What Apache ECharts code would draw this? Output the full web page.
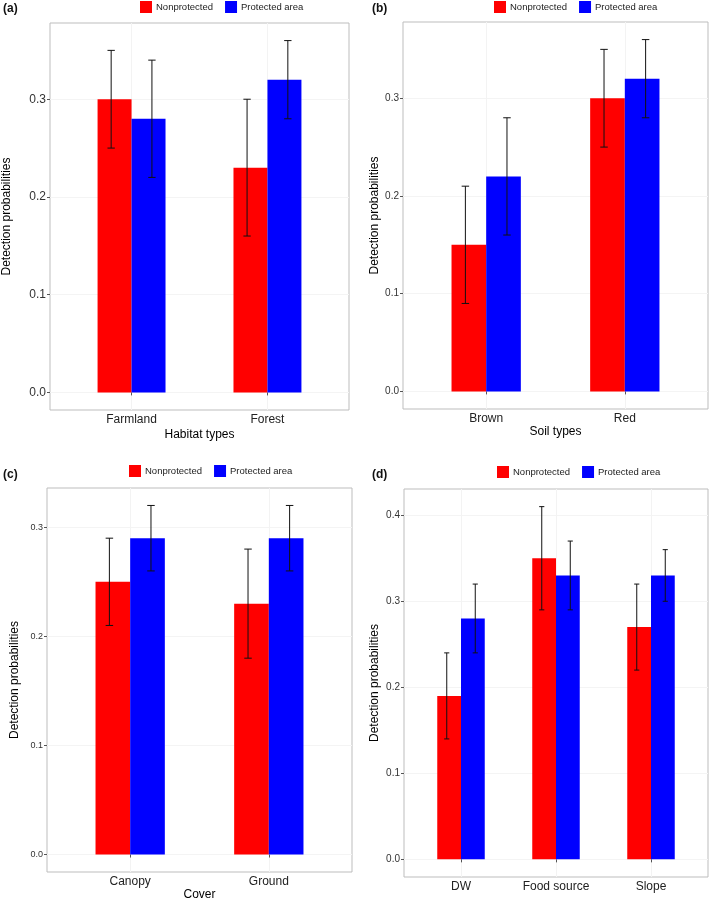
<!DOCTYPE html>
<html>
<head>
<meta charset="utf-8">
<script src="https://cdn.jsdelivr.net/npm/echarts@6/dist/echarts.min.js"></script>
<style>html,body{margin:0;padding:0;background:#fff;}#c{width:709px;height:902px;}</style>
</head>
<body>
<div id="c"></div>
<script>
// ---- data ----
const seriesNames = ['Nonprotected', 'Protected area'];

const catsA = ['Farmland', 'Forest'];
const npA = [0.30, 0.23], npLoA = [0.25, 0.16], npHiA = [0.35, 0.30];
const paA = [0.28, 0.32], paLoA = [0.22, 0.28], paHiA = [0.34, 0.36];

const catsB = ['Brown', 'Red'];
const npB = [0.15, 0.30], npLoB = [0.09, 0.25], npHiB = [0.21, 0.35];
const paB = [0.22, 0.32], paLoB = [0.16, 0.28], paHiB = [0.28, 0.36];

const catsC = ['Canopy', 'Ground'];
const npC = [0.25, 0.23], npLoC = [0.21, 0.18], npHiC = [0.29, 0.28];
const paC = [0.29, 0.29], paLoC = [0.26, 0.26], paHiC = [0.32, 0.32];

const catsD = ['DW', 'Food source', 'Slope'];
const npD = [0.19, 0.35, 0.27], npLoD = [0.14, 0.29, 0.22], npHiD = [0.24, 0.41, 0.32];
const paD = [0.28, 0.33, 0.33], paLoD = [0.24, 0.29, 0.30], paHiD = [0.32, 0.37, 0.36];

const ticks3 = [0, 0.1, 0.2, 0.3];
const ticks4 = [0, 0.1, 0.2, 0.3, 0.4];

const panelLabels = ['(a)', '(b)', '(c)', '(d)'];
const xTitles = ['Habitat types', 'Soil types', 'Cover', ''];
const yTitle = 'Detection probabilities';

// ---- layout / style ----
const FONT = 'Liberation Sans, Arial, sans-serif';
const RED = '#ff0000', BLUE = '#0000ff';

const layouts = [
  {grid: {left: 47, top: 23, width: 302, height: 387}, tickFont: 12, yGap: 37, xGap: 19, legend: {left: 140, top: 1}, label: {left: 3, top: 3}},
  {grid: {left: 403, top: 22, width: 305, height: 387}, tickFont: 10, yGap: 22, xGap: 14, legend: {left: 494, top: 1}, label: {left: 372, top: 3}},
  {grid: {left: 47, top: 488, width: 305, height: 387}, tickFont: 9, yGap: 26, xGap: 17, legend: {left: 129, top: 465}, label: {left: 3, top: 469}},
  {grid: {left: 404, top: 489, width: 304, height: 388}, tickFont: 10, yGap: 23, xGap: 15, legend: {left: 497, top: 466}, label: {left: 372, top: 469}}
];

const panels = [
  {cats: catsA, np: npA, npLo: npLoA, npHi: npHiA, pa: paA, paLo: paLoA, paHi: paHiA, ticks: ticks3},
  {cats: catsB, np: npB, npLo: npLoB, npHi: npHiB, pa: paB, paLo: paLoB, paHi: paHiB, ticks: ticks3},
  {cats: catsC, np: npC, npLo: npLoC, npHi: npHiC, pa: paC, paLo: paLoC, paHi: paHiC, ticks: ticks3},
  {cats: catsD, np: npD, npLo: npLoD, npHi: npHiD, pa: paD, paLo: paLoD, paHi: paHiD, ticks: ticks4}
];

function barRender(offset) {
  return function (params, api) {
    const x = api.value(0), v = api.value(1);
    const unit = api.size([1, 0])[0];
    const top = api.coord([x, v]);
    const base = api.coord([x, 0]);
    const w = unit * 0.25;
    return {
      type: 'rect',
      shape: {x: top[0] + offset * unit - w / 2, y: top[1], width: w, height: base[1] - top[1]},
      style: {fill: api.visual('color')}
    };
  };
}

function errRender(offset) {
  return function (params, api) {
    const x = api.value(0), lo = api.value(1), hi = api.value(2);
    const unit = api.size([1, 0])[0];
    const pLo = api.coord([x, lo]);
    const pHi = api.coord([x, hi]);
    const cx = pLo[0] + offset * unit;
    const hw = unit * 0.027;
    const st = {stroke: '#111', lineWidth: 1};
    return {
      type: 'group',
      children: [
        {type: 'line', shape: {x1: cx, y1: pLo[1], x2: cx, y2: pHi[1]}, style: st},
        {type: 'line', shape: {x1: cx - hw, y1: pHi[1], x2: cx + hw, y2: pHi[1]}, style: st},
        {type: 'line', shape: {x1: cx - hw, y1: pLo[1], x2: cx + hw, y2: pLo[1]}, style: st}
      ]
    };
  };
}

const option = {
  animation: false,
  textStyle: {fontFamily: FONT},
  grid: [], xAxis: [], yAxis: [], legend: [], title: [], series: []
};

panels.forEach(function (p, i) {
  const L = layouts[i];
  const n = p.cats.length;
  const catPos = p.cats.map(function (c, k) { return k + 1; });
  const dataMax = Math.max.apply(null, p.npHi.concat(p.paHi));
  const yMin = -0.05 * dataMax, yMax = dataMax * 1.05;
  const grid = Object.assign({show: true, borderColor: '#bdbdbd', borderWidth: 1, backgroundColor: '#fff', containLabel: false}, L.grid);
  option.grid.push(grid);
  const minor = [];
  p.ticks.forEach(function (t) { if (t + 0.05 < yMax) minor.push(+(t + 0.05).toFixed(2)); });
  option.xAxis.push({
    type: 'value', gridIndex: i, min: 0.4, max: n + 0.6,
    name: xTitles[i], nameLocation: 'middle', nameGap: L.xGap,
    nameTextStyle: {fontSize: 12, color: '#000', fontFamily: FONT},
    axisLine: {show: false},
    axisTick: {show: true, customValues: catPos, length: 3, lineStyle: {color: '#555'}},
    axisLabel: {show: true, customValues: catPos, margin: 4, fontSize: 12, color: '#222', fontFamily: FONT,
      formatter: function (v) { return p.cats[Math.round(v) - 1]; }},
    splitLine: {show: true, customValues: catPos, lineStyle: {color: '#f3f3f3', width: 1}}
  });
  option.yAxis.push({
    type: 'value', gridIndex: i, min: yMin, max: yMax,
    name: yTitle, nameLocation: 'middle', nameRotate: 90, nameGap: L.yGap,
    nameTextStyle: {fontSize: 12, color: '#000', fontFamily: FONT},
    axisLine: {show: false},
    axisTick: {show: true, customValues: p.ticks, length: 3, lineStyle: {color: '#555'}},
    axisLabel: {show: true, customValues: p.ticks, margin: 4, fontSize: L.tickFont, color: '#333', fontFamily: FONT,
      formatter: function (v) { return v.toFixed(1); }},
    splitLine: {show: true, customValues: p.ticks.concat(minor), lineStyle: {color: '#f4f4f4', width: 1}}
  });
  option.legend.push({
    left: L.legend.left, top: L.legend.top, orient: 'horizontal',
    itemWidth: 12, itemHeight: 12, itemGap: 12, padding: 0,
    textStyle: {fontSize: 9.5, color: '#222', fontFamily: FONT, padding: [0, 0, 0, -1]},
    data: [{name: seriesNames[0], icon: 'rect'}, {name: seriesNames[1], icon: 'rect'}]
  });
  option.title.push({
    text: panelLabels[i], left: L.label.left, top: L.label.top, padding: 0,
    textStyle: {fontSize: 12, fontWeight: 'bold', color: '#111', fontFamily: FONT}
  });
  const npData = p.np.map(function (v, k) { return [k + 1, v]; });
  const paData = p.pa.map(function (v, k) { return [k + 1, v]; });
  const npErr = p.np.map(function (v, k) { return [k + 1, p.npLo[k], p.npHi[k]]; });
  const paErr = p.pa.map(function (v, k) { return [k + 1, p.paLo[k], p.paHi[k]]; });
  option.series.push(
    {type: 'custom', name: seriesNames[0], xAxisIndex: i, yAxisIndex: i, itemStyle: {color: RED},
      renderItem: barRender(-0.125), data: npData, encode: {x: 0, y: 1}},
    {type: 'custom', name: seriesNames[1], xAxisIndex: i, yAxisIndex: i, itemStyle: {color: BLUE},
      renderItem: barRender(0.125), data: paData, encode: {x: 0, y: 1}},
    {type: 'custom', name: 'err-np-' + i, xAxisIndex: i, yAxisIndex: i, z: 5,
      renderItem: errRender(-0.15), data: npErr, encode: {x: 0, y: [1, 2]}},
    {type: 'custom', name: 'err-pa-' + i, xAxisIndex: i, yAxisIndex: i, z: 5,
      renderItem: errRender(0.15), data: paErr, encode: {x: 0, y: [1, 2]}}
  );
});

const chart = echarts.init(document.getElementById('c'), null, {renderer: 'canvas'});
chart.setOption(option);
</script>
</body>
</html>
